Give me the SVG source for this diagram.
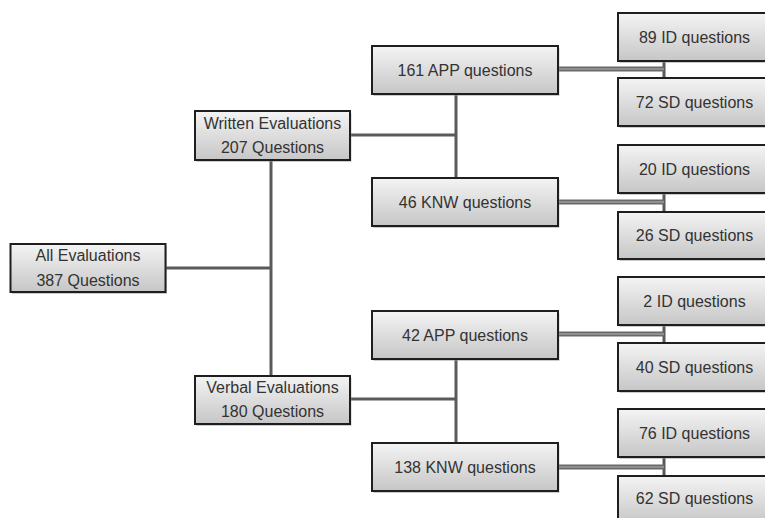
<svg xmlns="http://www.w3.org/2000/svg" width="765" height="518" viewBox="0 0 765 518">
<style>
.box{fill:url(#g);stroke:#1e1e1e;stroke-width:2}
.sh{fill:#9a9a9a;opacity:0.5}
text{font-family:"Liberation Sans",Arial,sans-serif;font-size:16px;fill:#333;text-anchor:middle}
.c{fill:none;stroke:#5a5a5a;stroke-width:3}
.co{fill:none;stroke:#6a6a6a;stroke-width:5}
.ci{fill:none;stroke:#9c9c9c;stroke-width:1.5}
</style>
<defs>
<linearGradient id="g" x1="0" y1="0" x2="0" y2="1">
<stop offset="0" stop-color="#f4f4f4"/>
<stop offset="1" stop-color="#c6c6c6"/>
</linearGradient>
</defs>
<rect width="765" height="518" fill="#fff"/>
<g id="connectors">
<path class="c" d="M166 268H271M271 160V376M350 135H456M350 399H456M456 94V178M456 358V443M664 61V78M664 193V212M664 325V343M664 457V476"/>
<path class="co" d="M558 69H664M558 202H664M558 334H664M558 467H664"/>
<path class="ci" d="M558 69H664M558 202H664M558 334H664M558 467H664"/>
</g>
<g id="all"><rect class="sh" x="12" y="246" width="155" height="48"/><rect class="box" x="10.5" y="244" width="155" height="48"/><text x="88" y="261">All Evaluations</text><text x="88" y="286">387 Questions</text></g>
<g id="written"><rect class="sh" x="196.5" y="113" width="155" height="49"/><rect class="box" x="195" y="111" width="155" height="49"/><text x="272.5" y="128.5">Written Evaluations</text><text x="272.5" y="152.5">207 Questions</text></g>
<g id="verbal"><rect class="sh" x="196.5" y="378" width="155" height="48"/><rect class="box" x="195" y="376" width="155" height="48"/><text x="272.5" y="393">Verbal Evaluations</text><text x="272.5" y="417">180 Questions</text></g>
<g id="app161"><rect class="sh" x="373.5" y="48" width="186" height="48"/><rect class="box" x="372" y="46" width="186" height="48"/><text x="465" y="75.5">161 APP questions</text></g>
<g id="knw46"><rect class="sh" x="373.5" y="180" width="186" height="48"/><rect class="box" x="372" y="178" width="186" height="48"/><text x="465" y="207.5">46 KNW questions</text></g>
<g id="app42"><rect class="sh" x="373.5" y="313" width="186" height="48"/><rect class="box" x="372" y="311" width="186" height="48"/><text x="465" y="340.5">42 APP questions</text></g>
<g id="knw138"><rect class="sh" x="373.5" y="445" width="186" height="48"/><rect class="box" x="372" y="443" width="186" height="48"/><text x="465" y="472.5">138 KNW questions</text></g>
<g id="id89"><rect class="sh" x="619.5" y="15" width="153" height="48"/><rect class="box" x="618" y="13" width="153" height="48"/><text x="694.5" y="42.5">89 ID questions</text></g>
<g id="sd72"><rect class="sh" x="619.5" y="80" width="153" height="48"/><rect class="box" x="618" y="78" width="153" height="48"/><text x="694.5" y="107.5">72 SD questions</text></g>
<g id="id20"><rect class="sh" x="619.5" y="147" width="153" height="48"/><rect class="box" x="618" y="145" width="153" height="48"/><text x="694.5" y="174.5">20 ID questions</text></g>
<g id="sd26"><rect class="sh" x="619.5" y="214" width="153" height="47"/><rect class="box" x="618" y="212" width="153" height="47"/><text x="694.5" y="241">26 SD questions</text></g>
<g id="id2"><rect class="sh" x="619.5" y="279" width="153" height="48"/><rect class="box" x="618" y="277" width="153" height="48"/><text x="694.5" y="306.5">2 ID questions</text></g>
<g id="sd40"><rect class="sh" x="619.5" y="345" width="153" height="48"/><rect class="box" x="618" y="343" width="153" height="48"/><text x="694.5" y="372.5">40 SD questions</text></g>
<g id="id76"><rect class="sh" x="619.5" y="411" width="153" height="48"/><rect class="box" x="618" y="409" width="153" height="48"/><text x="694.5" y="438.5">76 ID questions</text></g>
<g id="sd62"><rect class="sh" x="619.5" y="478" width="153" height="48"/><rect class="box" x="618" y="476" width="153" height="48"/><text x="694.5" y="504">62 SD questions</text></g>
</svg>
